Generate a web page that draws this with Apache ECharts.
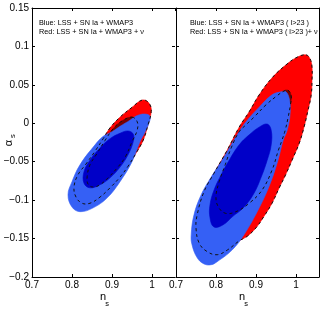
<!DOCTYPE html>
<html><head><meta charset="utf-8">
<script src="https://cdn.jsdelivr.net/npm/echarts@6/dist/echarts.min.js"></script>
<style>html,body{margin:0;padding:0;background:#fff}#c{width:323px;height:310px}</style>
</head><body><div id="c"></div>
<script>
// ---- axis ranges / ticks ----
const nsRange = [0.7, 1.0575];
const alphaRange = [-0.2, 0.15];
const nsInterval = 0.1;
const alphaInterval = 0.05;

// ---- legend texts ----
const leftLegend = ['Blue: LSS + SN Ia + WMAP3', 'Red: LSS + SN Ia + WMAP3 + \u03bd'];
const rightLegend = ['Blue: LSS + SN Ia + WMAP3 ( l>23 )', 'Red: LSS + SN Ia + WMAP3 ( l>23 )+ \u03bd'];

// ---- contour boundaries [n_s, alpha_s] ----
// Left panel
const leftRed95 = [[0.983,0.030],[0.995,0.024],[0.998,0.015],[0.990,-0.002],[0.978,-0.022],[0.960,-0.039],[0.940,-0.056],[0.920,-0.070],[0.895,-0.084],[0.870,-0.096],[0.845,-0.104],[0.825,-0.104],[0.810,-0.096],[0.805,-0.083],[0.815,-0.067],[0.835,-0.053],[0.858,-0.036],[0.878,-0.020],[0.895,-0.006],[0.920,0.008],[0.953,0.022],[0.970,0.029]];
const leftRed68 = [[0.950,0.008],[0.963,0.002],[0.963,-0.009],[0.950,-0.024],[0.933,-0.044],[0.913,-0.058],[0.890,-0.071],[0.870,-0.080],[0.853,-0.083],[0.840,-0.079],[0.838,-0.069],[0.845,-0.054],[0.863,-0.039],[0.883,-0.022],[0.903,-0.007],[0.925,0.003]];
const leftBlue95 = [[0.983,0.012],[0.995,0.009],[0.993,0.001],[0.983,-0.011],[0.970,-0.024],[0.950,-0.050],[0.920,-0.076],[0.888,-0.097],[0.853,-0.110],[0.820,-0.115],[0.800,-0.109],[0.790,-0.093],[0.800,-0.076],[0.820,-0.054],[0.853,-0.031],[0.878,-0.017],[0.900,-0.011],[0.920,-0.004],[0.945,0.004],[0.963,0.010]];
const leftBlue68 = [[0.940,-0.010],[0.953,-0.014],[0.953,-0.024],[0.940,-0.041],[0.920,-0.057],[0.895,-0.071],[0.870,-0.080],[0.845,-0.084],[0.830,-0.078],[0.830,-0.063],[0.845,-0.048],[0.870,-0.032],[0.895,-0.020],[0.920,-0.013]];
// Right panel
const rightRed95 = [[1.025,0.089],[1.035,0.084],[1.040,0.073],[1.040,0.056],[1.038,0.037],[1.030,0.017],[1.020,-0.005],[1.008,-0.026],[0.990,-0.048],[0.974,-0.067],[0.958,-0.084],[0.940,-0.104],[0.920,-0.121],[0.900,-0.136],[0.878,-0.147],[0.858,-0.153],[0.828,-0.165],[0.803,-0.171],[0.778,-0.167],[0.758,-0.156],[0.750,-0.136],[0.753,-0.119],[0.770,-0.089],[0.795,-0.065],[0.828,-0.035],[0.858,-0.005],[0.883,0.015],[0.908,0.037],[0.940,0.059],[0.975,0.076],[1.003,0.086]];
const rightRed68 = [[0.980,0.043],[0.988,0.036],[0.986,0.024],[0.980,0.007],[0.973,-0.009],[0.965,-0.022],[0.956,-0.035],[0.940,-0.061],[0.915,-0.087],[0.883,-0.104],[0.850,-0.115],[0.823,-0.117],[0.805,-0.108],[0.800,-0.095],[0.808,-0.076],[0.823,-0.054],[0.838,-0.032],[0.858,-0.011],[0.875,-0.002],[0.895,0.008],[0.925,0.024],[0.953,0.036],[0.970,0.042]];
const rightBlue95 = [[0.975,0.041],[0.984,0.030],[0.985,0.011],[0.978,-0.009],[0.968,-0.022],[0.955,-0.048],[0.935,-0.079],[0.908,-0.110],[0.870,-0.145],[0.840,-0.165],[0.803,-0.180],[0.788,-0.184],[0.770,-0.183],[0.753,-0.175],[0.740,-0.158],[0.738,-0.145],[0.745,-0.119],[0.763,-0.093],[0.788,-0.070],[0.820,-0.044],[0.853,-0.015],[0.875,0.002],[0.908,0.021],[0.940,0.037],[0.963,0.041]];
const rightBlue68 = [[0.928,-0.001],[0.938,-0.009],[0.938,-0.028],[0.928,-0.048],[0.913,-0.070],[0.895,-0.091],[0.870,-0.109],[0.840,-0.122],[0.818,-0.132],[0.795,-0.135],[0.785,-0.123],[0.785,-0.106],[0.795,-0.087],[0.813,-0.067],[0.833,-0.048],[0.858,-0.028],[0.883,-0.015],[0.908,-0.005]];

const RED = '#ff0000', DARKRED = '#7a0000', LIGHTBLUE = '#3560f5', DARKBLUE = '#0000c8', DASH = '#111111';

const chart = echarts.init(document.getElementById('c'), null, {renderer: 'canvas'});

function fmtAlpha(v) {
  const r = Math.round(v * 1000) / 1000;
  if (r === 0) return '0';
  return (r < 0 ? '\u2212' : '') + String(Math.abs(r));
}
function fmtNs(v) { return String(Math.round(v * 1000) / 1000); }

function xAx(grid, pos, labels) {
  return {
    type: 'value', gridIndex: grid, position: pos, min: nsRange[0], max: nsRange[1], interval: nsInterval,
    axisLine: {show: true, onZero: false, lineStyle: {color: '#000', width: 1}},
    axisTick: {show: true, inside: true, length: 3, lineStyle: {color: '#000'}},
    axisLabel: {show: labels, color: '#000', fontSize: 10, fontFamily: 'Liberation Sans', margin: 3, formatter: fmtNs, showMaxLabel: false},
    splitLine: {show: false}
  };
}
function yAx(grid, pos, labels, line) {
  return {
    type: 'value', gridIndex: grid, position: pos, min: alphaRange[0], max: alphaRange[1], interval: alphaInterval,
    axisLine: {show: line, onZero: false, lineStyle: {color: '#000', width: 1}},
    axisTick: {show: true, inside: true, length: 3, lineStyle: {color: '#000'}},
    axisLabel: {show: labels, color: '#000', fontSize: 10, fontFamily: 'Liberation Sans', margin: 3, formatter: fmtAlpha},
    splitLine: {show: false}
  };
}

function fillSeries(pts, xi, yi, color) {
  return {
    type: 'custom', xAxisIndex: xi, yAxisIndex: yi, data: pts, silent: true, clip: true,
    renderItem: function (params, api) {
      if (params.dataIndex !== 0) return null;
      return {type: 'polygon', shape: {points: pts.map(p => api.coord(p)), smooth: 0.4},
              style: {fill: color, stroke: color, lineWidth: 0.6}};
    }
  };
}
function dashSeries(pts, xi, yi) {
  return {
    type: 'custom', xAxisIndex: xi, yAxisIndex: yi, data: pts, silent: true, clip: true,
    renderItem: function (params, api) {
      if (params.dataIndex !== 0) return null;
      return {type: 'polygon', shape: {points: pts.map(p => api.coord(p)), smooth: 0.4},
              style: {fill: 'none', stroke: DASH, lineWidth: 1, lineDash: [3, 3]}};
    }
  };
}

function panelSeries(xi, yi, r95, r68, b95, b68) {
  return [
    fillSeries(r95, xi, yi, RED),
    fillSeries(r68, xi, yi, DARKRED),
    fillSeries(b95, xi, yi, LIGHTBLUE),
    fillSeries(b68, xi, yi, DARKBLUE),
    dashSeries(r95, xi, yi),
    dashSeries(r68, xi, yi)
  ];
}

const legendFont = '7.3px "Liberation Sans"';
function legendText(x, lines) {
  return lines.map((t, i) => ({type: 'text', x: x, y: 23 + i * 9,
    style: {text: t, font: legendFont, fill: '#000', verticalAlign: 'middle', align: 'left'}}));
}
function nsTitle(cx) {
  return [
    {type: 'text', x: cx, y: 297, style: {text: 'n', font: '11px "Liberation Sans"', fill: '#000', align: 'center', verticalAlign: 'middle'}},
    {type: 'text', x: cx + 4, y: 304, style: {text: 's', font: '7.5px "Liberation Sans"', fill: '#000', align: 'center', verticalAlign: 'middle'}}
  ];
}

chart.setOption({
  animation: false,
  backgroundColor: '#fff',
  grid: [
    {left: 32, top: 8, width: 143, height: 269},
    {left: 176, top: 8, width: 143, height: 269}
  ],
  xAxis: [xAx(0, 'bottom', true), xAx(0, 'top', false), xAx(1, 'bottom', true), xAx(1, 'top', false)],
  yAxis: [yAx(0, 'left', true, true), yAx(0, 'right', false, false), yAx(1, 'left', false, true), yAx(1, 'right', false, true)],
  series: [].concat(
    panelSeries(0, 0, leftRed95, leftRed68, leftBlue95, leftBlue68),
    panelSeries(2, 2, rightRed95, rightRed68, rightBlue95, rightBlue68)
  ),
  graphic: [].concat(
    legendText(39, leftLegend),
    legendText(190, rightLegend),
    nsTitle(103),
    nsTitle(242),
    [
      {type: 'text', x: 9, y: 143, rotation: Math.PI / 2, style: {text: '\u03b1', font: '11px "Liberation Sans"', fill: '#000', align: 'center', verticalAlign: 'middle'}},
      {type: 'text', x: 13, y: 136, rotation: Math.PI / 2, style: {text: 's', font: '7.5px "Liberation Sans"', fill: '#000', align: 'center', verticalAlign: 'middle'}}
    ]
  )
});
</script>
</body></html>
